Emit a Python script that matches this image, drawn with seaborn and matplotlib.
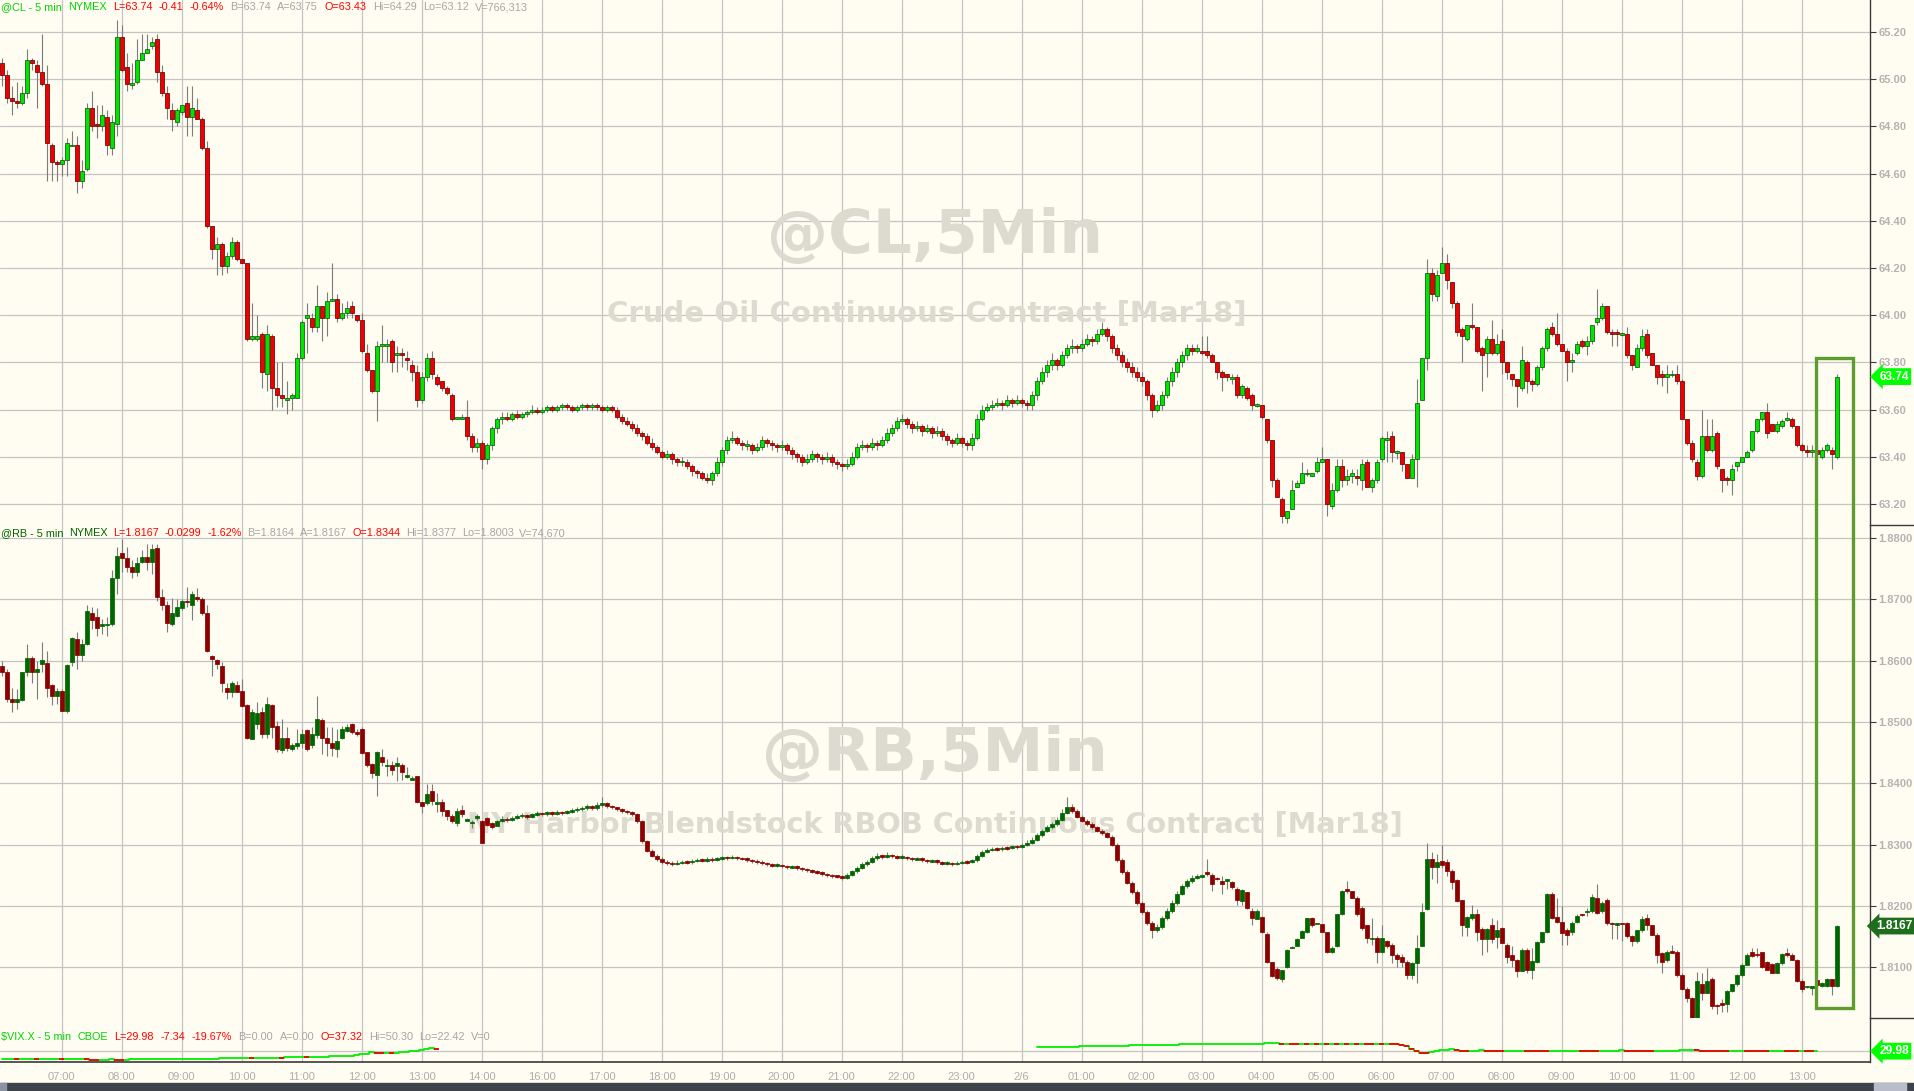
import numpy as np
import pandas as pd
import matplotlib
matplotlib.use("Agg")
import matplotlib.pyplot as plt
from matplotlib.patches import Rectangle
from matplotlib.lines import Line2D
from matplotlib.transforms import blended_transform_factory
import seaborn as sns

# ================== DATA ==================
hour_bars = [12, 24, 36, 48, 60, 72, 84, 96, 108, 120, 132, 144, 156, 168, 180, 192,
             216, 228, 240, 252, 264, 276, 288, 300, 312, 324, 336, 348, 360]
hour_labels = ["07:00", "08:00", "09:00", "10:00", "11:00", "12:00", "13:00", "14:00",
               "16:00", "17:00", "18:00", "19:00", "20:00", "21:00", "22:00", "23:00",
               "01:00", "02:00", "03:00", "04:00", "05:00", "06:00", "07:00", "08:00",
               "09:00", "10:00", "11:00", "12:00", "13:00"]
day_bar = 204
day_label = "2/6"

# crude oil, one value per 5-minute bar
cl_open = [
    65.07, 65.02, 64.92, 64.91, 64.90, 64.94, 65.08, 65.06, 65.03, 64.98, 64.72, 64.65,
    64.64, 64.66, 64.72, 64.72, 64.57, 64.62, 64.88, 64.81, 64.80, 64.84, 64.71, 64.81,
    65.18, 65.05, 64.98, 64.99, 65.08, 65.11, 65.14, 65.17, 65.03, 64.94, 64.87, 64.82,
    64.86, 64.90, 64.84, 64.87, 64.83, 64.71, 64.38, 64.28, 64.30, 64.21, 64.25, 64.31,
    64.24, 64.22, 63.90, 63.90, 63.92, 63.75, 63.91, 63.69, 63.66, 63.64, 63.65, 63.65,
    63.82, 63.99, 63.99, 63.95, 64.04, 63.99, 64.06, 64.07, 63.99, 64.01, 64.04, 64.00,
    63.98, 63.84, 63.77, 63.68, 63.87, 63.87, 63.89, 63.83, 63.84, 63.82, 63.79, 63.76,
    63.64, 63.74, 63.82, 63.74, 63.72, 63.69, 63.66, 63.56, 63.56, 63.57, 63.49, 63.44,
    63.46, 63.39,
    63.45, 63.52, 63.56, 63.57, 63.56, 63.58, 63.57, 63.58, 63.59, 63.60, 63.59, 63.60,
    63.61, 63.60, 63.61, 63.62, 63.61, 63.60, 63.61, 63.62, 63.61, 63.62, 63.61, 63.60,
    63.61, 63.60, 63.57, 63.55, 63.54, 63.52, 63.50, 63.49, 63.46, 63.44, 63.42, 63.40,
    63.41, 63.39, 63.38, 63.38, 63.36, 63.34, 63.33, 63.31, 63.30, 63.33, 63.38, 63.43,
    63.47, 63.48, 63.46, 63.45, 63.45, 63.43, 63.44, 63.47, 63.46, 63.45, 63.44, 63.45,
    63.43, 63.41, 63.40, 63.38, 63.39, 63.41, 63.40, 63.39, 63.40, 63.38, 63.37, 63.36,
    63.37, 63.40, 63.44, 63.45, 63.44, 63.46, 63.45, 63.47, 63.50, 63.52, 63.55, 63.56,
    63.54, 63.52, 63.53, 63.51, 63.52, 63.50, 63.51, 63.49, 63.47, 63.46, 63.48, 63.46,
    63.45, 63.48, 63.56, 63.60, 63.61, 63.62, 63.63, 63.62, 63.64, 63.63, 63.64, 63.63,
    63.62, 63.66, 63.72, 63.76, 63.79, 63.81, 63.79, 63.83, 63.86, 63.87, 63.86, 63.88,
    63.90, 63.89, 63.92, 63.94, 63.91, 63.86, 63.83, 63.80, 63.78, 63.76, 63.74, 63.72,
    63.66, 63.60, 63.62, 63.66, 63.72, 63.76, 63.80, 63.83, 63.86, 63.85,
    63.85, 63.85, 63.83, 63.80, 63.76, 63.75, 63.73, 63.74, 63.66, 63.69, 63.66, 63.62,
    63.62, 63.56, 63.47, 63.30, 63.22, 63.14, 63.18, 63.27, 63.29, 63.33, 63.32, 63.34,
    63.38, 63.39, 63.19, 63.26, 63.36, 63.30, 63.32, 63.32, 63.30, 63.38, 63.27, 63.30,
    63.39, 63.47, 63.49, 63.42, 63.42, 63.37, 63.31, 63.39, 63.64, 63.82, 64.18, 64.08,
    64.18, 64.22, 64.14, 64.05, 63.94, 63.90, 63.96, 63.95, 63.86, 63.84, 63.90, 63.84,
    63.89, 63.80, 63.75, 63.73, 63.69, 63.80, 63.72, 63.71, 63.78, 63.86, 63.95, 63.92,
    63.88, 63.85, 63.80, 63.84, 63.89, 63.87, 63.89, 63.97, 63.99, 64.04, 63.93, 63.93,
    63.92, 63.92, 63.83, 63.78, 63.86, 63.92, 63.84, 63.79, 63.75, 63.74, 63.75, 63.75,
    63.72, 63.56, 63.46, 63.38, 63.32, 63.49, 63.43, 63.50, 63.35, 63.31, 63.30, 63.36,
    63.38, 63.40, 63.43, 63.51, 63.56, 63.59, 63.54, 63.51, 63.53, 63.56, 63.56, 63.53,
    63.45, 63.43, 63.42, 63.43, 63.40, 63.43, 63.43, 63.40]
cl_high = [
    65.09, 65.04, 64.97, 64.99, 64.97, 65.13, 65.09, 65.08, 65.19, 65.06, 64.73, 64.66,
    64.67, 64.75, 64.78, 64.76, 64.66, 64.90, 64.95, 64.89, 64.89, 64.87, 64.85, 65.25,
    65.23, 65.11, 65.07, 65.17, 65.19, 65.19, 65.18, 65.19, 65.06, 64.97, 64.90, 64.88,
    64.89, 64.97, 64.97, 64.92, 64.84, 64.74, 64.38, 64.33, 64.31, 64.27, 64.33, 64.32,
    64.24, 64.22, 64.05, 64.00, 63.93, 63.96, 63.92, 63.80, 63.80, 63.72, 63.67, 63.84,
    63.98, 64.05, 64.01, 64.13, 64.04, 64.10, 64.22, 64.09, 64.05, 64.06, 64.06, 64.00,
    64.01, 63.88, 63.77, 63.89, 63.96, 63.90, 63.90, 63.87, 63.86, 63.85, 63.81, 63.79,
    63.76, 63.84, 63.85, 63.75, 63.72, 63.70, 63.67, 63.57, 63.58, 63.64, 63.50, 63.48,
    63.47, 63.46,
    63.53, 63.57, 63.59, 63.59, 63.59, 63.60, 63.59, 63.60, 63.62, 63.61, 63.61, 63.62,
    63.62, 63.62, 63.63, 63.63, 63.62, 63.62, 63.63, 63.63, 63.63, 63.63, 63.62, 63.62,
    63.62, 63.61, 63.58, 63.57, 63.55, 63.54, 63.51, 63.50, 63.48, 63.45, 63.43, 63.43,
    63.42, 63.40, 63.40, 63.39, 63.37, 63.35, 63.34, 63.33, 63.34, 63.40, 63.44, 63.49,
    63.51, 63.49, 63.47, 63.47, 63.46, 63.46, 63.49, 63.48, 63.47, 63.46, 63.47, 63.46,
    63.44, 63.42, 63.41, 63.41, 63.43, 63.42, 63.41, 63.42, 63.41, 63.39, 63.38, 63.39,
    63.42, 63.46, 63.47, 63.46, 63.48, 63.47, 63.49, 63.52, 63.54, 63.57, 63.58, 63.57,
    63.55, 63.55, 63.54, 63.54, 63.53, 63.53, 63.52, 63.50, 63.48, 63.50, 63.49, 63.47,
    63.50, 63.58, 63.62, 63.63, 63.64, 63.65, 63.64, 63.66, 63.65, 63.66, 63.65, 63.64,
    63.68, 63.74, 63.78, 63.81, 63.84, 63.82, 63.85, 63.88, 63.90, 63.88, 63.90, 63.92,
    63.91, 63.94, 63.97, 63.95, 63.92, 63.88, 63.85, 63.82, 63.80, 63.78, 63.76, 63.73,
    63.67, 63.64, 63.68, 63.74, 63.78, 63.82, 63.85, 63.88, 63.88, 63.88,
    63.91, 63.91, 63.84, 63.80, 63.77, 63.75, 63.75, 63.75, 63.71, 63.70, 63.67, 63.63,
    63.62, 63.56, 63.47, 63.31, 63.23, 63.17, 63.30, 63.30, 63.38, 63.35, 63.33, 63.40,
    63.44, 63.39, 63.29, 63.39, 63.39, 63.35, 63.35, 63.35, 63.39, 63.39, 63.31, 63.39,
    63.49, 63.51, 63.51, 63.43, 63.42, 63.37, 63.41, 63.73, 63.82, 64.24, 64.20, 64.19,
    64.29, 64.26, 64.14, 64.06, 63.95, 63.96, 64.05, 63.95, 63.87, 63.91, 63.98, 63.92,
    63.94, 63.80, 63.75, 63.73, 63.87, 63.81, 63.73, 63.79, 63.87, 63.95, 63.97, 64.01,
    63.88, 63.86, 63.84, 63.89, 63.90, 63.91, 63.96, 64.11, 64.05, 64.04, 63.94, 63.94,
    63.93, 63.95, 63.83, 63.88, 63.94, 63.94, 63.84, 63.79, 63.77, 63.79, 63.77, 63.79,
    63.73, 63.56, 63.47, 63.39, 63.60, 63.56, 63.56, 63.51, 63.35, 63.32, 63.37, 63.38,
    63.40, 63.43, 63.51, 63.56, 63.59, 63.63, 63.54, 63.55, 63.56, 63.59, 63.57, 63.53,
    63.46, 63.45, 63.45, 63.44, 63.44, 63.46, 63.44, 63.75]
cl_low = [
    64.97, 64.90, 64.85, 64.88, 64.89, 64.92, 65.04, 64.88, 64.97, 64.57, 64.57, 64.57,
    64.59, 64.59, 64.72, 64.52, 64.54, 64.61, 64.78, 64.75, 64.78, 64.68, 64.68, 64.76,
    65.03, 64.95, 64.96, 64.98, 65.08, 65.11, 65.13, 64.99, 64.93, 64.83, 64.78, 64.80,
    64.85, 64.76, 64.76, 64.83, 64.70, 64.37, 64.24, 64.17, 64.17, 64.18, 64.24, 64.23,
    64.22, 63.89, 63.89, 63.89, 63.69, 63.68, 63.60, 63.61, 63.61, 63.58, 63.60, 63.65,
    63.81, 63.84, 63.93, 63.93, 63.89, 63.91, 64.06, 63.97, 63.98, 63.99, 63.99, 63.97,
    63.84, 63.76, 63.67, 63.55, 63.80, 63.80, 63.76, 63.76, 63.78, 63.77, 63.72, 63.61,
    63.63, 63.72, 63.73, 63.70, 63.68, 63.66, 63.55, 63.56, 63.56, 63.47, 63.42, 63.42,
    63.35, 63.37,
    63.43, 63.50, 63.54, 63.55, 63.55, 63.56, 63.56, 63.57, 63.58, 63.58, 63.58, 63.59,
    63.59, 63.59, 63.60, 63.60, 63.59, 63.59, 63.60, 63.60, 63.60, 63.60, 63.59, 63.59,
    63.59, 63.56, 63.54, 63.53, 63.51, 63.49, 63.47, 63.45, 63.43, 63.41, 63.39, 63.39,
    63.37, 63.36, 63.36, 63.35, 63.32, 63.31, 63.30, 63.29, 63.28, 63.32, 63.36, 63.41,
    63.46, 63.45, 63.43, 63.43, 63.41, 63.42, 63.43, 63.44, 63.43, 63.42, 63.43, 63.41,
    63.39, 63.38, 63.36, 63.37, 63.38, 63.38, 63.37, 63.38, 63.36, 63.35, 63.34, 63.35,
    63.36, 63.39, 63.43, 63.42, 63.43, 63.43, 63.44, 63.46, 63.49, 63.51, 63.54, 63.52,
    63.50, 63.51, 63.49, 63.50, 63.48, 63.49, 63.47, 63.45, 63.44, 63.45, 63.44, 63.43,
    63.43, 63.47, 63.55, 63.59, 63.60, 63.61, 63.60, 63.61, 63.61, 63.62, 63.61, 63.60,
    63.60, 63.64, 63.71, 63.74, 63.77, 63.77, 63.78, 63.82, 63.84, 63.84, 63.85, 63.87,
    63.87, 63.88, 63.91, 63.89, 63.84, 63.81, 63.78, 63.76, 63.74, 63.72, 63.70, 63.64,
    63.57, 63.59, 63.60, 63.65, 63.70, 63.74, 63.78, 63.81, 63.83, 63.84,
    63.83, 63.82, 63.80, 63.73, 63.68, 63.72, 63.71, 63.65, 63.65, 63.64, 63.60, 63.61,
    63.56, 63.46, 63.27, 63.23, 63.12, 63.12, 63.18, 63.27, 63.29, 63.32, 63.32, 63.33,
    63.38, 63.15, 63.18, 63.25, 63.27, 63.28, 63.29, 63.28, 63.26, 63.27, 63.25, 63.29,
    63.38, 63.38, 63.38, 63.39, 63.34, 63.31, 63.31, 63.27, 63.64, 63.77, 64.06, 64.06,
    64.18, 64.11, 64.03, 63.91, 63.80, 63.89, 63.94, 63.84, 63.68, 63.74, 63.83, 63.83,
    63.75, 63.73, 63.70, 63.61, 63.68, 63.67, 63.68, 63.70, 63.77, 63.85, 63.91, 63.87,
    63.85, 63.72, 63.76, 63.83, 63.86, 63.83, 63.88, 63.96, 63.98, 63.92, 63.87, 63.87,
    63.91, 63.82, 63.77, 63.78, 63.85, 63.82, 63.79, 63.71, 63.70, 63.67, 63.74, 63.71,
    63.56, 63.45, 63.38, 63.30, 63.31, 63.42, 63.42, 63.35, 63.25, 63.28, 63.24, 63.34,
    63.38, 63.40, 63.42, 63.50, 63.55, 63.48, 63.51, 63.50, 63.52, 63.55, 63.52, 63.44,
    63.42, 63.40, 63.40, 63.38, 63.39, 63.42, 63.35, 63.39]
cl_close = [
    65.02, 64.92, 64.91, 64.90, 64.94, 65.08, 65.07, 65.03, 64.98, 64.73, 64.65, 64.64,
    64.66, 64.73, 64.72, 64.57, 64.61, 64.88, 64.80, 64.80, 64.85, 64.72, 64.82, 65.18,
    65.04, 64.98, 64.98, 65.08, 65.11, 65.13, 65.16, 65.03, 64.94, 64.88, 64.83, 64.87,
    64.89, 64.84, 64.88, 64.83, 64.71, 64.38, 64.28, 64.30, 64.21, 64.25, 64.31, 64.24,
    64.22, 63.90, 63.91, 63.91, 63.76, 63.92, 63.69, 63.66, 63.65, 63.65, 63.66, 63.82,
    63.97, 64.00, 63.95, 64.04, 63.99, 64.06, 64.07, 63.99, 64.01, 64.03, 64.01, 63.98,
    63.85, 63.77, 63.68, 63.87, 63.88, 63.88, 63.80, 63.84, 63.83, 63.81, 63.76, 63.64,
    63.74, 63.82, 63.75, 63.71, 63.69, 63.67, 63.56, 63.57, 63.57, 63.49, 63.44, 63.46,
    63.39, 63.45,
    63.52, 63.56, 63.57, 63.56, 63.58, 63.57, 63.58, 63.59, 63.60, 63.59, 63.60, 63.61,
    63.60, 63.61, 63.62, 63.61, 63.60, 63.61, 63.62, 63.61, 63.62, 63.61, 63.60, 63.61,
    63.60, 63.57, 63.55, 63.54, 63.52, 63.50, 63.49, 63.46, 63.44, 63.42, 63.40, 63.41,
    63.39, 63.38, 63.38, 63.36, 63.34, 63.33, 63.31, 63.30, 63.33, 63.38, 63.43, 63.47,
    63.48, 63.46, 63.45, 63.45, 63.43, 63.44, 63.47, 63.46, 63.45, 63.44, 63.45, 63.43,
    63.41, 63.40, 63.38, 63.39, 63.41, 63.40, 63.39, 63.40, 63.38, 63.37, 63.36, 63.37,
    63.40, 63.44, 63.45, 63.44, 63.46, 63.45, 63.47, 63.50, 63.52, 63.55, 63.56, 63.54,
    63.52, 63.53, 63.51, 63.52, 63.50, 63.51, 63.49, 63.47, 63.46, 63.48, 63.46, 63.45,
    63.48, 63.56, 63.60, 63.61, 63.62, 63.63, 63.62, 63.64, 63.63, 63.64, 63.63, 63.62,
    63.66, 63.72, 63.76, 63.79, 63.81, 63.79, 63.83, 63.86, 63.87, 63.86, 63.88, 63.90,
    63.89, 63.92, 63.94, 63.91, 63.86, 63.83, 63.80, 63.78, 63.76, 63.74, 63.72, 63.66,
    63.60, 63.62, 63.66, 63.72, 63.76, 63.80, 63.83, 63.86, 63.85, 63.86,
    63.84, 63.83, 63.80, 63.76, 63.74, 63.74, 63.74, 63.66, 63.70, 63.65, 63.62, 63.62,
    63.57, 63.47, 63.30, 63.23, 63.15, 63.17, 63.26, 63.29, 63.33, 63.33, 63.33, 63.38,
    63.39, 63.20, 63.26, 63.36, 63.30, 63.32, 63.33, 63.31, 63.37, 63.27, 63.30, 63.38,
    63.48, 63.48, 63.42, 63.42, 63.37, 63.31, 63.39, 63.63, 63.82, 64.18, 64.09, 64.17,
    64.22, 64.15, 64.05, 63.93, 63.91, 63.96, 63.95, 63.85, 63.83, 63.90, 63.84, 63.88,
    63.80, 63.76, 63.73, 63.70, 63.81, 63.72, 63.71, 63.78, 63.86, 63.94, 63.92, 63.88,
    63.85, 63.80, 63.81, 63.88, 63.87, 63.89, 63.96, 63.99, 64.04, 63.93, 63.92, 63.92,
    63.92, 63.83, 63.79, 63.86, 63.91, 63.83, 63.79, 63.74, 63.74, 63.75, 63.75, 63.72,
    63.56, 63.46, 63.39, 63.32, 63.49, 63.43, 63.49, 63.36, 63.30, 63.30, 63.35, 63.38,
    63.40, 63.42, 63.51, 63.56, 63.59, 63.50, 63.51, 63.54, 63.55, 63.56, 63.53, 63.45,
    63.43, 63.42, 63.43, 63.41, 63.43, 63.45, 63.41, 63.74]

# RBOB gasoline, one value per 5-minute bar
rb_open = [
    1.8592, 1.8582, 1.8537, 1.8532, 1.8536, 1.8581, 1.8605, 1.8581, 1.8595, 1.8596, 1.8560, 1.8542,
    1.8550, 1.8518, 1.8597, 1.8636, 1.8609, 1.8627, 1.8677, 1.8671, 1.8658, 1.8659, 1.8659, 1.8735,
    1.8775, 1.8767, 1.8753, 1.8745, 1.8761, 1.8769, 1.8761, 1.8784, 1.8704, 1.8691, 1.8659, 1.8673,
    1.8686, 1.8698, 1.8690, 1.8703, 1.8701, 1.8677, 1.8607, 1.8601, 1.8592, 1.8556, 1.8549, 1.8560,
    1.8550, 1.8527, 1.8472, 1.8496, 1.8516, 1.8481, 1.8527, 1.8493, 1.8454, 1.8474, 1.8455, 1.8461,
    1.8465, 1.8486, 1.8463, 1.8478, 1.8503, 1.8473, 1.8465, 1.8455, 1.8473, 1.8485, 1.8496, 1.8483,
    1.8489, 1.8451, 1.8431, 1.8414, 1.8442, 1.8429, 1.8429, 1.8428, 1.8429, 1.8410, 1.8407, 1.8411,
    1.8369, 1.8367, 1.8387, 1.8368, 1.8369, 1.8356, 1.8346, 1.8335, 1.8357, 1.8340, 1.8336, 1.8345,
    1.8338, 1.8343, 1.8335, 1.8331,
    1.8339, 1.8342, 1.8340, 1.8344, 1.8346, 1.8348, 1.8345, 1.8349, 1.8351, 1.8350, 1.8352, 1.8350,
    1.8353, 1.8351, 1.8354, 1.8356, 1.8358, 1.8360, 1.8362, 1.8360, 1.8365, 1.8367, 1.8363, 1.8361,
    1.8358, 1.8355, 1.8353, 1.8350, 1.8338, 1.8305, 1.8290, 1.8282, 1.8276, 1.8272, 1.8270, 1.8268,
    1.8270, 1.8272, 1.8271, 1.8273, 1.8275, 1.8274, 1.8276, 1.8275, 1.8277, 1.8279, 1.8278, 1.8280,
    1.8278, 1.8277, 1.8275, 1.8273, 1.8272, 1.8270, 1.8268, 1.8266, 1.8267, 1.8265, 1.8263, 1.8264,
    1.8262, 1.8260, 1.8258, 1.8256, 1.8255, 1.8252, 1.8250, 1.8249, 1.8248, 1.8246, 1.8250, 1.8256,
    1.8262, 1.8268, 1.8272, 1.8278, 1.8282, 1.8280, 1.8283, 1.8281, 1.8279, 1.8280, 1.8278, 1.8276,
    1.8277, 1.8275, 1.8273, 1.8274, 1.8271, 1.8269, 1.8270, 1.8268, 1.8270, 1.8272, 1.8271, 1.8274,
    1.8282, 1.8288, 1.8291, 1.8293, 1.8292, 1.8295, 1.8294, 1.8297, 1.8296, 1.8299, 1.8303, 1.8308,
    1.8315, 1.8322, 1.8328, 1.8333, 1.8340, 1.8352, 1.8362, 1.8355, 1.8345, 1.8338, 1.8333, 1.8328,
    1.8322, 1.8318, 1.8312, 1.8300, 1.8275, 1.8255, 1.8238, 1.8222, 1.8205, 1.8190, 1.8172, 1.8160,
    1.8165, 1.8180, 1.8192, 1.8205, 1.8220, 1.8232, 1.8240, 1.8245,
    1.8248, 1.8254, 1.8250, 1.8245, 1.8241, 1.8240, 1.8239, 1.8227, 1.8208, 1.8223, 1.8192, 1.8179,
    1.8182, 1.8154, 1.8108, 1.8097, 1.8081, 1.8101, 1.8132, 1.8135, 1.8148, 1.8157, 1.8180, 1.8171,
    1.8171, 1.8158, 1.8124, 1.8134, 1.8186, 1.8227, 1.8224, 1.8213, 1.8197, 1.8168, 1.8147, 1.8147,
    1.8125, 1.8143, 1.8136, 1.8120, 1.8117, 1.8109, 1.8087, 1.8106, 1.8135, 1.8194, 1.8277, 1.8264,
    1.8273, 1.8271, 1.8257, 1.8242, 1.8209, 1.8166, 1.8180, 1.8187, 1.8162, 1.8146, 1.8169, 1.8149,
    1.8164, 1.8136, 1.8120, 1.8112, 1.8094, 1.8128, 1.8095, 1.8109, 1.8141, 1.8157, 1.8220, 1.8182,
    1.8173, 1.8161, 1.8158, 1.8173, 1.8186, 1.8190, 1.8191, 1.8213, 1.8191, 1.8210, 1.8172, 1.8170,
    1.8172, 1.8172, 1.8151, 1.8143, 1.8161, 1.8180, 1.8168, 1.8153, 1.8123, 1.8111, 1.8125, 1.8125,
    1.8087, 1.8065, 1.8050, 1.8008, 1.8073, 1.8058, 1.8081, 1.8038, 1.8040, 1.8040, 1.8061, 1.8072,
    1.8087, 1.8104, 1.8125, 1.8121, 1.8124, 1.8109, 1.8105, 1.8091, 1.8106, 1.8123, 1.8119, 1.8112,
    1.8078, 1.8068, 1.8068, 1.8079, 1.8069, 1.8069, 1.8080, 1.8069]
rb_high = [
    1.8600, 1.8586, 1.8556, 1.8554, 1.8581, 1.8627, 1.8608, 1.8600, 1.8630, 1.8615, 1.8562, 1.8556,
    1.8554, 1.8595, 1.8638, 1.8646, 1.8636, 1.8690, 1.8687, 1.8685, 1.8668, 1.8671, 1.8748, 1.8786,
    1.8799, 1.8786, 1.8764, 1.8769, 1.8780, 1.8791, 1.8790, 1.8790, 1.8717, 1.8698, 1.8702, 1.8701,
    1.8701, 1.8720, 1.8713, 1.8719, 1.8704, 1.8690, 1.8609, 1.8603, 1.8597, 1.8564, 1.8567, 1.8566,
    1.8570, 1.8529, 1.8521, 1.8533, 1.8524, 1.8540, 1.8529, 1.8502, 1.8504, 1.8491, 1.8466, 1.8488,
    1.8488, 1.8489, 1.8491, 1.8543, 1.8507, 1.8491, 1.8491, 1.8488, 1.8493, 1.8497, 1.8499, 1.8488,
    1.8491, 1.8451, 1.8433, 1.8452, 1.8455, 1.8439, 1.8436, 1.8442, 1.8433, 1.8427, 1.8411, 1.8411,
    1.8369, 1.8398, 1.8398, 1.8384, 1.8374, 1.8357, 1.8349, 1.8360, 1.8365, 1.8343, 1.8340, 1.8349,
    1.8340, 1.8345, 1.8336, 1.8340,
    1.8346, 1.8345, 1.8347, 1.8349, 1.8351, 1.8350, 1.8352, 1.8354, 1.8353, 1.8355, 1.8354, 1.8356,
    1.8355, 1.8357, 1.8359, 1.8361, 1.8363, 1.8366, 1.8364, 1.8369, 1.8377, 1.8369, 1.8365, 1.8362,
    1.8360, 1.8357, 1.8355, 1.8352, 1.8340, 1.8308, 1.8293, 1.8285, 1.8279, 1.8275, 1.8273, 1.8274,
    1.8275, 1.8275, 1.8276, 1.8278, 1.8278, 1.8279, 1.8279, 1.8280, 1.8282, 1.8282, 1.8283, 1.8282,
    1.8280, 1.8279, 1.8277, 1.8276, 1.8274, 1.8272, 1.8270, 1.8270, 1.8269, 1.8267, 1.8266, 1.8266,
    1.8264, 1.8262, 1.8260, 1.8258, 1.8257, 1.8254, 1.8252, 1.8251, 1.8250, 1.8253, 1.8259, 1.8265,
    1.8271, 1.8275, 1.8281, 1.8286, 1.8285, 1.8287, 1.8285, 1.8283, 1.8284, 1.8282, 1.8280, 1.8280,
    1.8279, 1.8277, 1.8277, 1.8276, 1.8273, 1.8273, 1.8272, 1.8273, 1.8275, 1.8274, 1.8277, 1.8285,
    1.8291, 1.8294, 1.8296, 1.8296, 1.8298, 1.8298, 1.8300, 1.8300, 1.8303, 1.8307, 1.8312, 1.8319,
    1.8326, 1.8332, 1.8337, 1.8345, 1.8358, 1.8377, 1.8366, 1.8358, 1.8348, 1.8341, 1.8336, 1.8331,
    1.8326, 1.8321, 1.8315, 1.8303, 1.8278, 1.8258, 1.8241, 1.8225, 1.8208, 1.8193, 1.8175, 1.8170,
    1.8184, 1.8196, 1.8209, 1.8224, 1.8236, 1.8244, 1.8250, 1.8252,
    1.8252, 1.8277, 1.8254, 1.8247, 1.8249, 1.8243, 1.8241, 1.8230, 1.8227, 1.8223, 1.8197, 1.8195,
    1.8183, 1.8157, 1.8109, 1.8101, 1.8096, 1.8129, 1.8134, 1.8147, 1.8160, 1.8180, 1.8181, 1.8172,
    1.8171, 1.8158, 1.8134, 1.8187, 1.8225, 1.8241, 1.8224, 1.8216, 1.8199, 1.8168, 1.8180, 1.8150,
    1.8169, 1.8145, 1.8139, 1.8123, 1.8121, 1.8112, 1.8109, 1.8153, 1.8205, 1.8302, 1.8287, 1.8285,
    1.8299, 1.8276, 1.8260, 1.8243, 1.8209, 1.8183, 1.8201, 1.8194, 1.8166, 1.8164, 1.8180, 1.8177,
    1.8166, 1.8139, 1.8134, 1.8114, 1.8131, 1.8131, 1.8131, 1.8142, 1.8158, 1.8221, 1.8223, 1.8213,
    1.8199, 1.8164, 1.8175, 1.8186, 1.8187, 1.8197, 1.8219, 1.8235, 1.8208, 1.8212, 1.8173, 1.8172,
    1.8172, 1.8173, 1.8153, 1.8161, 1.8183, 1.8187, 1.8169, 1.8155, 1.8125, 1.8128, 1.8136, 1.8128,
    1.8090, 1.8068, 1.8051, 1.8092, 1.8090, 1.8098, 1.8084, 1.8040, 1.8048, 1.8062, 1.8073, 1.8088,
    1.8106, 1.8123, 1.8132, 1.8131, 1.8125, 1.8110, 1.8106, 1.8109, 1.8123, 1.8131, 1.8123, 1.8114,
    1.8080, 1.8070, 1.8070, 1.8080, 1.8075, 1.8082, 1.8081, 1.8168]
rb_low = [
    1.8575, 1.8532, 1.8516, 1.8521, 1.8534, 1.8575, 1.8564, 1.8537, 1.8581, 1.8540, 1.8527, 1.8529,
    1.8518, 1.8515, 1.8592, 1.8586, 1.8600, 1.8625, 1.8652, 1.8640, 1.8644, 1.8640, 1.8657, 1.8709,
    1.8745, 1.8745, 1.8734, 1.8738, 1.8760, 1.8748, 1.8742, 1.8698, 1.8682, 1.8646, 1.8657, 1.8671,
    1.8682, 1.8687, 1.8666, 1.8698, 1.8674, 1.8614, 1.8575, 1.8586, 1.8548, 1.8537, 1.8540, 1.8548,
    1.8524, 1.8472, 1.8472, 1.8488, 1.8474, 1.8474, 1.8474, 1.8451, 1.8450, 1.8452, 1.8452, 1.8455,
    1.8458, 1.8452, 1.8458, 1.8474, 1.8447, 1.8444, 1.8444, 1.8442, 1.8472, 1.8484, 1.8481, 1.8477,
    1.8447, 1.8427, 1.8409, 1.8379, 1.8428, 1.8411, 1.8414, 1.8403, 1.8406, 1.8409, 1.8405, 1.8368,
    1.8351, 1.8365, 1.8365, 1.8353, 1.8346, 1.8340, 1.8335, 1.8330, 1.8345, 1.8338, 1.8327, 1.8340,
    1.8302, 1.8330, 1.8326, 1.8330,
    1.8336, 1.8337, 1.8338, 1.8341, 1.8343, 1.8342, 1.8343, 1.8346, 1.8347, 1.8347, 1.8347, 1.8348,
    1.8348, 1.8349, 1.8351, 1.8353, 1.8355, 1.8357, 1.8357, 1.8357, 1.8362, 1.8360, 1.8358, 1.8355,
    1.8352, 1.8350, 1.8347, 1.8335, 1.8302, 1.8287, 1.8279, 1.8273, 1.8269, 1.8266, 1.8265, 1.8266,
    1.8268, 1.8268, 1.8269, 1.8271, 1.8271, 1.8272, 1.8272, 1.8273, 1.8275, 1.8275, 1.8276, 1.8275,
    1.8274, 1.8272, 1.8270, 1.8269, 1.8267, 1.8265, 1.8263, 1.8264, 1.8262, 1.8260, 1.8261, 1.8259,
    1.8257, 1.8255, 1.8253, 1.8252, 1.8249, 1.8247, 1.8246, 1.8245, 1.8242, 1.8244, 1.8248, 1.8254,
    1.8260, 1.8265, 1.8270, 1.8275, 1.8277, 1.8278, 1.8278, 1.8276, 1.8277, 1.8275, 1.8273, 1.8274,
    1.8272, 1.8270, 1.8271, 1.8268, 1.8266, 1.8267, 1.8265, 1.8266, 1.8268, 1.8268, 1.8270, 1.8272,
    1.8279, 1.8286, 1.8289, 1.8289, 1.8290, 1.8291, 1.8292, 1.8293, 1.8294, 1.8297, 1.8301, 1.8306,
    1.8313, 1.8320, 1.8325, 1.8331, 1.8338, 1.8350, 1.8352, 1.8343, 1.8336, 1.8331, 1.8326, 1.8320,
    1.8315, 1.8310, 1.8298, 1.8272, 1.8252, 1.8235, 1.8219, 1.8202, 1.8187, 1.8169, 1.8147, 1.8158,
    1.8162, 1.8177, 1.8189, 1.8202, 1.8217, 1.8229, 1.8237, 1.8243,
    1.8247, 1.8249, 1.8224, 1.8242, 1.8219, 1.8227, 1.8227, 1.8202, 1.8202, 1.8195, 1.8169, 1.8178,
    1.8155, 1.8107, 1.8084, 1.8079, 1.8076, 1.8098, 1.8131, 1.8134, 1.8147, 1.8155, 1.8166, 1.8170,
    1.8157, 1.8123, 1.8123, 1.8133, 1.8185, 1.8221, 1.8212, 1.8184, 1.8161, 1.8139, 1.8136, 1.8107,
    1.8123, 1.8131, 1.8107, 1.8101, 1.8101, 1.8081, 1.8080, 1.8074, 1.8134, 1.8193, 1.8243, 1.8238,
    1.8262, 1.8249, 1.8227, 1.8206, 1.8150, 1.8150, 1.8177, 1.8142, 1.8120, 1.8125, 1.8139, 1.8131,
    1.8139, 1.8106, 1.8101, 1.8084, 1.8094, 1.8090, 1.8081, 1.8107, 1.8139, 1.8155, 1.8179, 1.8172,
    1.8136, 1.8136, 1.8153, 1.8172, 1.8184, 1.8183, 1.8188, 1.8186, 1.8188, 1.8169, 1.8146, 1.8146,
    1.8143, 1.8147, 1.8134, 1.8139, 1.8158, 1.8161, 1.8152, 1.8106, 1.8090, 1.8109, 1.8123, 1.8084,
    1.8062, 1.8043, 1.8002, 1.8006, 1.8046, 1.8057, 1.8032, 1.8024, 1.8026, 1.8026, 1.8059, 1.8070,
    1.8084, 1.8103, 1.8117, 1.8117, 1.8098, 1.8095, 1.8090, 1.8090, 1.8103, 1.8117, 1.8112, 1.8076,
    1.8060, 1.8066, 1.8054, 1.8068, 1.8068, 1.8068, 1.8055, 1.8068]
rb_close = [
    1.8582, 1.8537, 1.8532, 1.8538, 1.8581, 1.8605, 1.8581, 1.8586, 1.8601, 1.8556, 1.8542, 1.8550,
    1.8518, 1.8593, 1.8637, 1.8609, 1.8627, 1.8681, 1.8666, 1.8653, 1.8659, 1.8659, 1.8735, 1.8771,
    1.8767, 1.8753, 1.8745, 1.8760, 1.8769, 1.8761, 1.8782, 1.8704, 1.8691, 1.8662, 1.8677, 1.8687,
    1.8697, 1.8695, 1.8708, 1.8700, 1.8677, 1.8616, 1.8603, 1.8595, 1.8563, 1.8549, 1.8563, 1.8549,
    1.8526, 1.8473, 1.8516, 1.8515, 1.8481, 1.8529, 1.8492, 1.8455, 1.8473, 1.8458, 1.8462, 1.8465,
    1.8480, 1.8455, 1.8480, 1.8504, 1.8473, 1.8465, 1.8457, 1.8469, 1.8489, 1.8492, 1.8483, 1.8480,
    1.8449, 1.8429, 1.8416, 1.8451, 1.8434, 1.8429, 1.8422, 1.8433, 1.8418, 1.8414, 1.8407, 1.8369,
    1.8363, 1.8383, 1.8371, 1.8368, 1.8354, 1.8346, 1.8338, 1.8355, 1.8350, 1.8340, 1.8336, 1.8345,
    1.8302, 1.8332, 1.8328, 1.8339,
    1.8342, 1.8340, 1.8344, 1.8346, 1.8348, 1.8345, 1.8349, 1.8351, 1.8350, 1.8352, 1.8350, 1.8353,
    1.8351, 1.8354, 1.8356, 1.8358, 1.8360, 1.8362, 1.8360, 1.8365, 1.8367, 1.8363, 1.8361, 1.8358,
    1.8355, 1.8353, 1.8350, 1.8338, 1.8305, 1.8290, 1.8282, 1.8276, 1.8272, 1.8270, 1.8268, 1.8270,
    1.8272, 1.8271, 1.8273, 1.8275, 1.8274, 1.8276, 1.8275, 1.8277, 1.8279, 1.8278, 1.8280, 1.8278,
    1.8277, 1.8275, 1.8273, 1.8272, 1.8270, 1.8268, 1.8266, 1.8267, 1.8265, 1.8263, 1.8264, 1.8262,
    1.8260, 1.8258, 1.8256, 1.8255, 1.8252, 1.8250, 1.8249, 1.8248, 1.8246, 1.8250, 1.8256, 1.8262,
    1.8268, 1.8272, 1.8278, 1.8282, 1.8280, 1.8283, 1.8281, 1.8279, 1.8280, 1.8278, 1.8276, 1.8277,
    1.8275, 1.8273, 1.8274, 1.8271, 1.8269, 1.8270, 1.8268, 1.8270, 1.8272, 1.8271, 1.8274, 1.8282,
    1.8288, 1.8291, 1.8293, 1.8292, 1.8295, 1.8294, 1.8297, 1.8296, 1.8299, 1.8303, 1.8308, 1.8315,
    1.8322, 1.8328, 1.8333, 1.8340, 1.8352, 1.8362, 1.8355, 1.8345, 1.8338, 1.8333, 1.8328, 1.8322,
    1.8318, 1.8312, 1.8300, 1.8275, 1.8255, 1.8238, 1.8222, 1.8205, 1.8190, 1.8172, 1.8160, 1.8165,
    1.8180, 1.8192, 1.8205, 1.8220, 1.8232, 1.8240, 1.8245, 1.8248,
    1.8250, 1.8253, 1.8235, 1.8244, 1.8235, 1.8243, 1.8231, 1.8209, 1.8225, 1.8196, 1.8180, 1.8192,
    1.8158, 1.8109, 1.8086, 1.8083, 1.8095, 1.8128, 1.8132, 1.8146, 1.8159, 1.8180, 1.8169, 1.8171,
    1.8158, 1.8124, 1.8132, 1.8186, 1.8224, 1.8224, 1.8213, 1.8187, 1.8164, 1.8147, 1.8147, 1.8124,
    1.8147, 1.8135, 1.8120, 1.8114, 1.8109, 1.8087, 1.8107, 1.8131, 1.8190, 1.8277, 1.8263, 1.8271,
    1.8266, 1.8257, 1.8239, 1.8208, 1.8168, 1.8182, 1.8187, 1.8158, 1.8146, 1.8162, 1.8146, 1.8161,
    1.8140, 1.8117, 1.8112, 1.8094, 1.8128, 1.8095, 1.8110, 1.8141, 1.8157, 1.8220, 1.8180, 1.8173,
    1.8155, 1.8152, 1.8172, 1.8184, 1.8185, 1.8191, 1.8215, 1.8188, 1.8205, 1.8172, 1.8171, 1.8171,
    1.8171, 1.8151, 1.8143, 1.8160, 1.8179, 1.8168, 1.8153, 1.8120, 1.8109, 1.8125, 1.8124, 1.8087,
    1.8065, 1.8050, 1.8008, 1.8077, 1.8058, 1.8077, 1.8036, 1.8037, 1.8039, 1.8061, 1.8072, 1.8087,
    1.8104, 1.8120, 1.8118, 1.8120, 1.8101, 1.8096, 1.8091, 1.8106, 1.8121, 1.8119, 1.8112, 1.8078,
    1.8064, 1.8069, 1.8068, 1.8071, 1.8074, 1.8081, 1.8069, 1.8167]

# VIX: two sessions of 5-min closes
vix_start_1 = 0
vix_close_1 = [
    16.4, 16.4, 16.4, 16.2, 16.2, 16.3, 16.3, 16.2, 16.2, 16.2, 16.4, 16.4,
    16.3, 16.3, 16.4, 16.4, 17.0, 16.2, 16.1, 16.0, 16.0, 16.1, 16.2, 16.1,
    16.0, 16.0, 16.2, 16.3, 16.3, 16.4, 16.5, 16.6, 16.8, 16.9, 17.0, 17.1,
    17.2, 17.3, 17.3, 17.4, 17.5, 17.6, 17.7, 17.8, 17.9, 18.0, 18.0, 18.1,
    18.4, 18.6, 18.5, 18.9, 19.0, 19.0, 19.2, 19.4, 19.3, 19.5, 19.6, 19.7,
    19.7, 19.5, 19.8, 20.2, 20.8, 21.0, 21.4, 21.8, 22.0, 22.3, 22.5, 24.0,
    24.7, 25.6, 28.5, 27.4, 27.0, 27.6, 27.0, 27.4, 27.8, 28.6, 30.3, 30.6,
    31.5, 33.6, 34.7, 34.2]
vix_start_2 = 207
vix_close_2 = [
    36.2, 36.4, 36.6, 36.8, 37.0, 37.1, 37.3, 37.4, 37.6, 37.8, 38.0, 38.1,
    38.3, 38.5, 38.6, 38.8, 39.0, 39.2, 39.3, 39.5, 39.7, 39.8, 40.0, 40.2,
    40.3, 40.5, 40.6, 40.8, 41.0, 41.1, 41.3, 41.4, 41.6, 41.7, 41.8, 42.0,
    42.1, 42.2, 42.3, 42.4, 42.4, 42.5, 42.5, 42.6, 42.6, 42.6, 42.7, 42.7,
    42.7, 42.6, 42.6, 42.5, 42.4, 42.4, 42.3, 42.3, 42.2, 42.2, 42.1, 42.1,
    42.0, 42.0, 41.9, 41.9, 41.8, 41.8, 41.7, 41.6, 41.6, 41.5, 41.5, 41.4,
    41.2, 40.5, 38.0, 33.0, 30.0, 27.5, 26.5, 27.8, 29.5, 31.2, 32.5, 33.0,
    31.8, 30.5, 29.8, 30.4, 31.0, 31.3, 31.0, 30.6, 30.2, 30.0, 30.3, 30.6,
    30.8, 31.0, 30.7, 30.5, 30.2, 30.0, 29.8, 30.0, 30.3, 30.5, 30.7, 30.9,
    31.0, 30.8, 30.6, 30.4, 30.2, 30.3, 30.5, 30.8, 31.0, 31.1, 30.9, 30.7,
    30.5, 30.3, 30.1, 29.9, 30.1, 30.4, 30.6, 30.8, 31.0, 31.2, 31.4, 31.5,
    31.3, 31.0, 30.8, 30.6, 30.5, 30.3, 30.2, 30.4, 30.6, 30.8, 30.6, 30.4,
    30.3, 30.2, 30.1, 30.2, 30.3, 30.4, 30.2, 30.1, 30.0, 30.1, 30.0, 29.9,
    29.98]

cl_ticks = [63.20, 63.40, 63.60, 63.80, 64.00, 64.20, 64.40, 64.60, 64.80, 65.00, 65.20]
rb_ticks = [1.8100, 1.8200, 1.8300, 1.8400, 1.8500, 1.8600, 1.8700, 1.8800]

cl_header = [("@CL - 5 min", "lime"), ("NYMEX", "lime"), ("L=63.74", "red"),
             ("-0.41", "red"), ("-0.64%", "red"), ("B=63.74", "gray"),
             ("A=63.75", "gray"), ("O=63.43", "red"), ("Hi=64.29", "gray"),
             ("Lo=63.12", "gray"), ("V=766,313", "gray")]
rb_header = [("@RB - 5 min", "dkgreen"), ("NYMEX", "dkgreen"), ("L=1.8167", "red"),
             ("-0.0299", "red"), ("-1.62%", "red"), ("B=1.8164", "gray"),
             ("A=1.8167", "gray"), ("O=1.8344", "red"), ("Hi=1.8377", "gray"),
             ("Lo=1.8003", "gray"), ("V=74,670", "gray")]
vix_header = [("$VIX.X - 5 min", "lime"), ("CBOE", "lime"), ("L=29.98", "red"),
              ("-7.34", "red"), ("-19.67%", "red"), ("B=0.00", "gray"),
              ("A=0.00", "gray"), ("O=37.32", "red"), ("Hi=50.30", "gray"),
              ("Lo=22.42", "gray"), ("V=0", "gray")]

# ================== STYLE ==================
W, H = 1914, 1091
BG = "#FFFDF1"
GRID = "#C4C4C4"
AXIS_TXT = "#B3B3B3"
SPINE = "#3A3A3A"
HDR_COLORS = {"lime": "#00D400", "dkgreen": "#006400", "red": "#FF0000", "gray": "#A6A6A6"}
PLOT_R = 1870
XLIM = (-0.34, 373.66)

sns.set_style("white")
plt.rcParams["font.family"] = ["Liberation Sans", "DejaVu Sans"]

fig = plt.figure(figsize=(W / 100, H / 100), dpi=100, facecolor=BG)


def add_ax(x0, y0, x1, y1):
    ax = fig.add_axes([x0 / W, 1 - y1 / H, (x1 - x0) / W, (y1 - y0) / H])
    ax.set_facecolor("none")
    for s in ax.spines.values():
        s.set_visible(False)
    ax.spines["right"].set_visible(True)
    ax.spines["right"].set_color(SPINE)
    ax.spines["right"].set_linewidth(1.0)
    ax.set_xlim(XLIM)
    ax.set_xticks(hour_bars)
    ax.set_xticks([day_bar], minor=True)
    ax.grid(True, which="both", color=GRID, lw=0.9)
    ax.set_axisbelow(True)
    ax.yaxis.tick_right()
    ax.tick_params(axis="x", which="both", length=0, labelbottom=False)
    ax.tick_params(axis="y", length=4, width=0.8, color=SPINE, labelcolor=AXIS_TXT,
                   labelsize=8, pad=2)
    return ax


def draw_candles(ax, o, h, l, c, up_fc, up_ec, dn_fc, dn_ec, min_h):
    df = pd.DataFrame({"o": o, "h": h, "l": l, "c": c})
    df["x"] = np.arange(len(df))
    df = df.dropna()
    ax.vlines(df["x"], df["l"], df["h"], color="#7C7C7C", lw=0.8, zorder=2)
    up = df["c"] >= df["o"]
    for mask, fc, ec in [(up, up_fc, up_ec), (~up, dn_fc, dn_ec)]:
        d = df[mask]
        lo = np.minimum(d["o"], d["c"])
        hi = np.maximum(d["o"], d["c"])
        mid = (lo + hi) / 2
        hgt = np.maximum(hi - lo, min_h)
        ax.bar(d["x"], hgt, bottom=mid - hgt / 2, width=0.74, color=fc,
               edgecolor=ec, linewidth=0.55, zorder=3)


def price_tag(ax, value, text, fc):
    tr = blended_transform_factory(ax.transAxes, ax.transData)
    ax.text(1 + 24 / PLOT_R, value, text, transform=tr, ha="center", va="center",
            color="white", fontsize=8.6, fontweight="bold", clip_on=False,
            bbox=dict(boxstyle="larrow,pad=0.2", fc=fc, ec="none"), zorder=10)


def header(y_px, parts, end_px):
    texts = [fig.text(0, 1 - y_px / H, t, color=HDR_COLORS[c], fontsize=7.8,
                      ha="left", va="center") for t, c in parts]
    renderer = fig.canvas.get_renderer()
    widths = [t.get_window_extent(renderer).width for t in texts]
    gap = (end_px - 1 - sum(widths)) / (len(texts) - 1)
    x = 1
    for t, w in zip(texts, widths):
        t.set_x(x / W)
        x += w + gap


# ---------- crude oil panel ----------
ax_cl = add_ax(0, 0, PLOT_R, 525)
ax_cl.set_ylim(63.111, 65.336)
ax_cl.set_yticks(cl_ticks)
ax_cl.set_yticklabels([f"{v:.2f}" for v in cl_ticks], fontweight="bold")
draw_candles(ax_cl, cl_open, cl_high, cl_low, cl_close,
             "#00E400", "#0A5A0A", "#EE0000", "#6A0000", 0.006)
ax_cl.text(0.5, 1 - 236 / 525, "@CL,5Min", transform=ax_cl.transAxes, ha="center",
           va="center", fontsize=44, fontweight="bold", color="#DDDAD0",
           family="DejaVu Sans", zorder=1)
ax_cl.text(0.4957, 1 - 314 / 525, "Crude Oil Continuous Contract [Mar18]",
           transform=ax_cl.transAxes, ha="center", va="center", fontsize=21,
           fontweight="bold", color="#DDDAD0", family="DejaVu Sans", zorder=1)
price_tag(ax_cl, cl_close[-1], f"{cl_close[-1]:.2f}", "#00FF00")

# ---------- RBOB panel ----------
ax_rb = add_ax(0, 525, PLOT_R, 1018)
ax_rb.set_ylim(1.8017, 1.88212)
ax_rb.set_yticks(rb_ticks)
ax_rb.set_yticklabels([f"{v:.4f}" for v in rb_ticks], fontweight="bold")
draw_candles(ax_rb, rb_open, rb_high, rb_low, rb_close,
             "#006600", "#006600", "#8C0000", "#8C0000", 0.00025)
ax_rb.text(0.5, 1 - 229 / 493, "@RB,5Min", transform=ax_rb.transAxes, ha="center",
           va="center", fontsize=44, fontweight="bold", color="#DDDAD0",
           family="DejaVu Sans", zorder=1)
ax_rb.text(0.5, 1 - 300 / 493, "NY Harbor Blendstock RBOB Continuous Contract [Mar18]",
           transform=ax_rb.transAxes, ha="center", va="center", fontsize=20.7,
           fontweight="bold", color="#DDDAD0", family="DejaVu Sans", zorder=1)
price_tag(ax_rb, rb_close[-1], f"{rb_close[-1]:.4f}", "#1E6E1E")

# ---------- VIX strip ----------
ax_vx = add_ax(0, 1018, PLOT_R, 1062)
ax_vx.set_ylim(12, 85)
ax_vx.set_yticks([30])
ax_vx.set_yticklabels([""])
ax_vx.spines["bottom"].set_visible(True)
ax_vx.spines["bottom"].set_color(SPINE)
ax_vx.spines["bottom"].set_linewidth(1.2)
ax_vx.set_xticklabels(hour_labels)
ax_vx.set_xticklabels([day_label], minor=True)
ax_vx.tick_params(axis="x", which="major", length=4, width=0.8, color=SPINE,
                  labelbottom=True, labelcolor="#ADADAD", labelsize=8, pad=3)
ax_vx.tick_params(axis="x", which="minor", length=8, width=0.8, color=SPINE,
                  labelbottom=True, labelcolor="#ADADAD", labelsize=8, pad=-1)

for start, vals in [(vix_start_1, vix_close_1), (vix_start_2, vix_close_2)]:
    vdf = pd.DataFrame({"bar": np.arange(start, start + len(vals)), "vix": vals})
    sns.lineplot(data=vdf, x="bar", y="vix", ax=ax_vx, color="#00EE00", lw=1.3,
                 drawstyle="steps-mid", zorder=3)
    down = vdf["vix"].diff() < 0
    ax_vx.hlines(vdf.loc[down, "vix"], vdf.loc[down, "bar"] - 0.5,
                 vdf.loc[down, "bar"] + 0.5, color="#EE0000", lw=1.3, zorder=4)
ax_vx.set_xlabel("")
ax_vx.set_ylabel("")
price_tag(ax_vx, vix_close_2[-1], f"{vix_close_2[-1]:.2f}", "#00FF00")

# ---------- header lines ----------
header(7, cl_header, 528)
header(533, rb_header, 566)
header(1037, vix_header, 491)

# ---------- separators, highlight box, bottom scroll bar ----------
for y in (525, 1018):
    fig.add_artist(Line2D([PLOT_R / W, 1], [1 - y / H] * 2, color=SPINE, lw=1.0))
fig.add_artist(Rectangle((1816 / W, 1 - 1008 / H), 37 / W, 650 / H, fill=False,
                         ec="#5E9C2E", lw=2.4, transform=fig.transFigure, zorder=20))
fig.add_artist(Rectangle((0, 0), 1, 8 / H, color="#3D424B", transform=fig.transFigure))
fig.add_artist(Rectangle((0, 0), 6 / W, 8 / H, color="#8A93A3", transform=fig.transFigure))
fig.add_artist(Rectangle((1874 / W, 0), 32 / W, 8 / H, color="#B9BDC9",
                         transform=fig.transFigure))

fig.savefig("out.png", dpi=100, facecolor=BG)
